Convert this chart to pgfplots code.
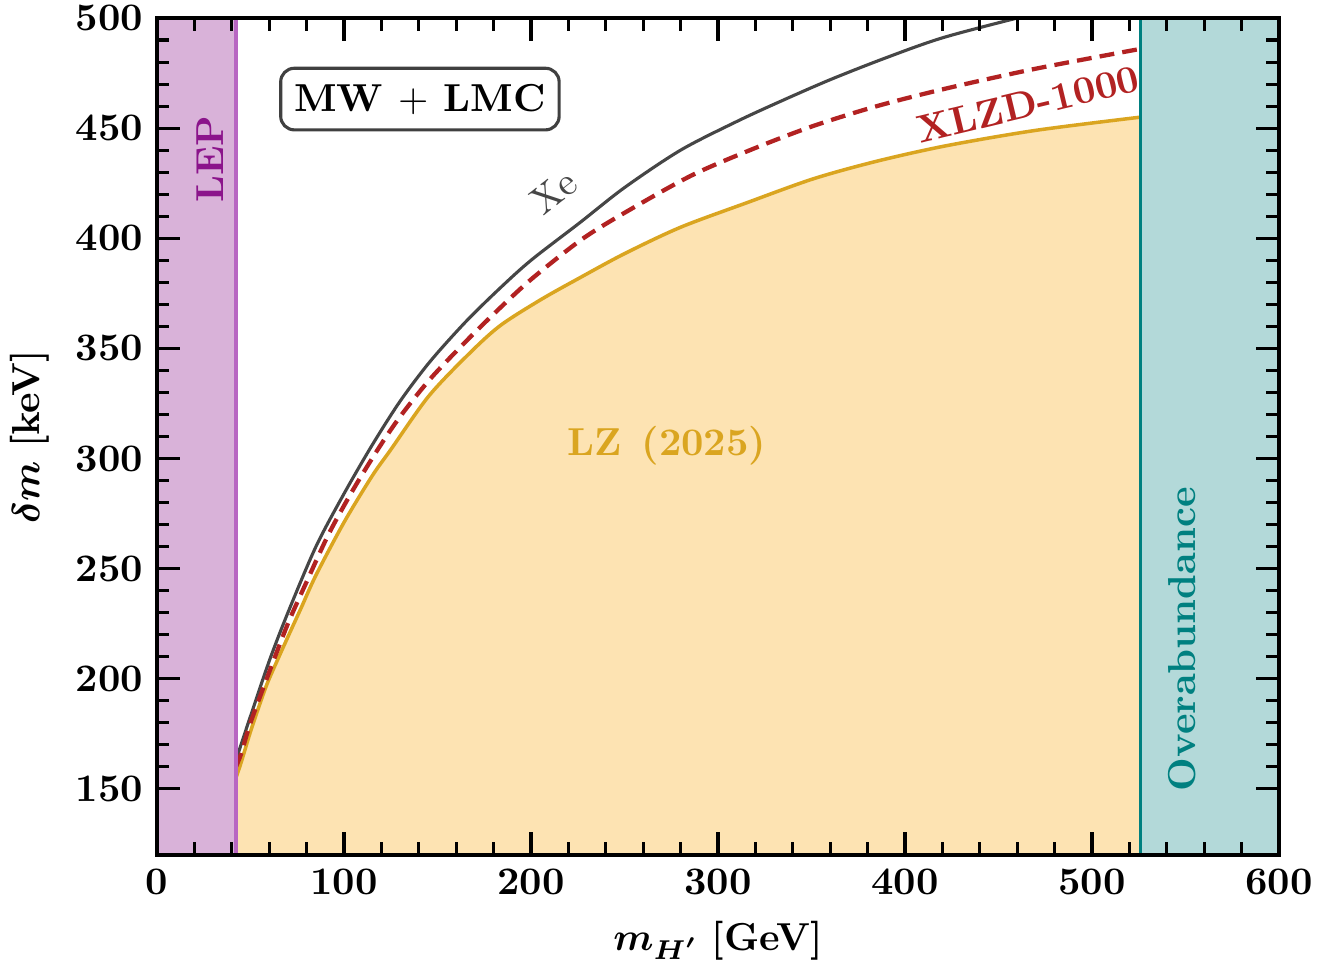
\documentclass[border=0pt]{standalone}
\usepackage{bm}
\usepackage{pgfplots}
\usepackage{pgfplotstable}
\pgfplotsset{compat=1.18}
\definecolor{lepfill}{RGB}{217,178,217}
\definecolor{lepline}{RGB}{184,102,194}
\definecolor{leptext}{RGB}{139,20,139}
\definecolor{ovfill}{RGB}{179,217,217}
\definecolor{ovline}{RGB}{0,128,128}
\definecolor{lzfill}{RGB}{253,227,178}
\definecolor{lzline}{RGB}{218,165,32}
\definecolor{xlzdred}{RGB}{178,34,34}
\definecolor{xegray}{RGB}{70,70,70}
\pgfplotstableread{
x y
42.2 155
45 162
50 176
56 191
60 200
70 219
77 232
85 247
100 271
115 292
125 304
145 328
165 346
183 360
205 372
226 382
250 393
280 405
315 416
351 427
385 435
422 442
470 449
526 455
}\lzdata
\pgfplotstableread{
x y
42.2 163
50 183
60 208
70 230
85 260
100 284
115 306
130 326
146 344
165 362
183 377
200 390
226 407
250 423
280 440
310 453
333 462
360 472
390 482
420 491
460 500
480 504
}\xedata
\pgfplotstableread{
x y
42.2 160
45 166
50 180
60 203
70 225
80 244
92 266
105 286
118 304
130 319
146 336
165 353
183 368
201 382
228 400
255 414
287 429
320 441
351 451
385 460
422 468
470 477
526 486
}\xlzddata
\begin{document}
\begin{tikzpicture}
\useasboundingbox (-40.26pt,-26.92pt) rectangle (302.32pt,219.22pt);
\begin{axis}[
  scale only axis,
  width=287.7pt, height=214.6pt,
  xmin=0, xmax=600, ymin=120, ymax=500,
  xtick={0,100,200,300,400,500,600},
  ytick={150,200,250,300,350,400,450,500},
  minor x tick num=4,
  minor y tick num=4,
  tick align=inside,
  major tick length=6pt,
  minor tick length=3.2pt,
  tick style={line width=0.8pt, color=black},
  axis line style={line width=1.1pt},
  /pgf/number format/assume math mode=true,
  tick label style={font=\bfseries},
  xlabel={$\bm{m_{H'}}$ \textbf{[GeV]}},
  ylabel={$\bm{\delta m}$ \textbf{[keV]}},
  axis on top,
]
\addplot[fill=lepfill, draw=lepfill] coordinates {(0,120) (42.2,120) (42.2,500) (0,500)};
\addplot[fill=ovfill, draw=ovfill] coordinates {(526,120) (600,120) (600,500) (526,500)};
\addplot[smooth, fill=lzfill, draw=lzfill] table[x=x, y=y] {\lzdata} |- (axis cs:42.2,120);
\addplot[smooth, color=lzline, line width=0.9pt] table[x=x, y=y] {\lzdata};
\addplot[smooth, color=xegray, line width=0.8pt] table[x=x, y=y] {\xedata};
\addplot[smooth, color=xlzdred, line width=1.1pt, dash pattern=on 3.8pt off 2.1pt] table[x=x, y=y] {\xlzddata};
\addplot[color=lepline, line width=0.9pt] coordinates {(42.2,120) (42.2,500)};
\addplot[color=ovline, line width=0.9pt] coordinates {(526,120) (526,500)};
\node[rotate=90, text=leptext, font=\bfseries] at (axis cs:28.3,436) {LEP};
\node[rotate=90, text=ovline, font=\bfseries] at (axis cs:548,218) {Overabundance};
\node[text=lzline, font=\bfseries] at (axis cs:272.7,306) {LZ\enspace(2025)};
\node[rotate=13.5, text=xlzdred, font=\bfseries] at (axis cs:465.8,461) {XLZD-1000};
\node[rotate=38, text=xegray] at (axis cs:212,421) {Xe};
\node[draw=black!75, rounded corners=3.5pt, line width=0.8pt, fill=white, inner xsep=3.5pt, inner ysep=4pt, font=\bfseries] at (axis cs:140.6,463.2) {MW $+$ LMC};
\end{axis}
\end{tikzpicture}
\end{document}
